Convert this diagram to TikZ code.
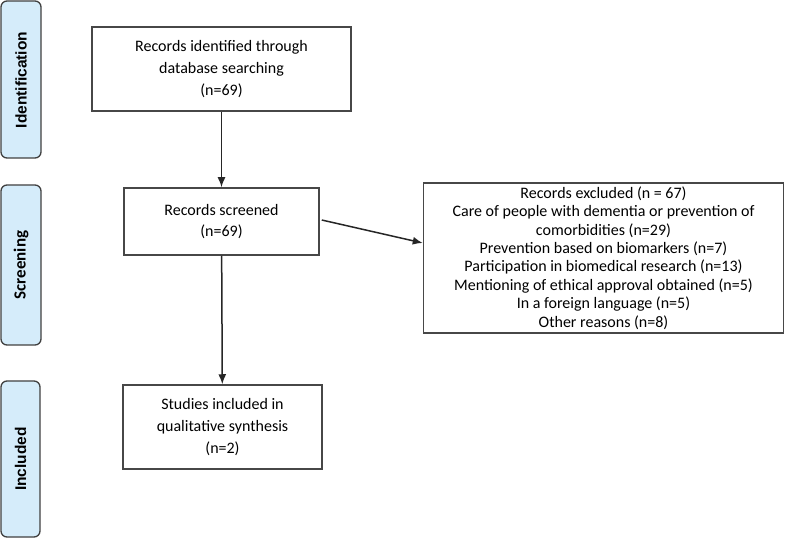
\documentclass[tikz,border=0pt]{standalone}
\usepackage{fontspec}
\setmainfont{Carlito}
\newfontfamily\tabfont{Liberation Sans}
\usetikzlibrary{arrows.meta, calc}
\definecolor{EdgeGray}{HTML}{474747}
\definecolor{TabBlue}{HTML}{D5ECFA}

\begin{document}
\begin{tikzpicture}[x=1pt, y=-1pt,
    box/.style={draw=EdgeGray, line width=1.5pt, align=center, inner sep=0pt,
                font=\fontsize{16}{21.7}\selectfont},
    phase/.style={draw=EdgeGray!90!black, line width=1.3pt, fill=TabBlue,
                  rounded corners=6pt},
    phaselabel/.style={rotate=90, font=\tabfont\bfseries\fontsize{15.5}{19}\selectfont},
    flow/.style={-{Latex[length=10pt,width=8pt]}, line width=1.5pt, draw=black!85}]
\useasboundingbox (0,0) rectangle (788,540);

% phase tabs on the left
\draw[phase] (1,1) rectangle (41,158);
\node[phaselabel] (identlbl) at (21,80) {Identification};
\draw[phase] (1,185) rectangle (41,345);
\node[phaselabel, font=\bfseries\fontsize{17}{20}\selectfont] (screenlbl) at (21,265) {Screening};
\draw[phase] (1,381) rectangle (40,537);
\node[phaselabel] (inclulbl) at (20.5,459) {Included};

% flow boxes
\node[box, minimum width=259pt, minimum height=84pt] (identified) at (221.5,69)
    {Records identified through\\database searching\\(n=69)};
\node[box, minimum width=195pt, minimum height=67pt] (screened) at (221.5,221.5)
    {Records screened\\(n=69)};
\node[box, minimum width=360pt, minimum height=150pt,
      font=\fontsize{16}{18.4}\selectfont] (excluded) at (603.5,258)
    {Records excluded (n = 67)\\
     Care of people with dementia or prevention of\\
     comorbidities (n=29)\\
     Prevention based on biomarkers (n=7)\\
     Participation in biomedical research (n=13)\\
     Mentioning of ethical approval obtained (n=5)\\
     In a foreign language (n=5)\\
     Other reasons (n=8)};
\node[box, minimum width=199pt, minimum height=84pt] (included) at (222.5,427)
    {Studies included in\\qualitative synthesis\\(n=2)};

% connectors
\draw[flow] (identified) -- (screened);
\draw[flow] ($(screened.east)+(2,-1.5)$) -- ($(excluded.west)+(0,-15)$);
\draw[flow] (screened) -- (included);
\end{tikzpicture}
\end{document}
